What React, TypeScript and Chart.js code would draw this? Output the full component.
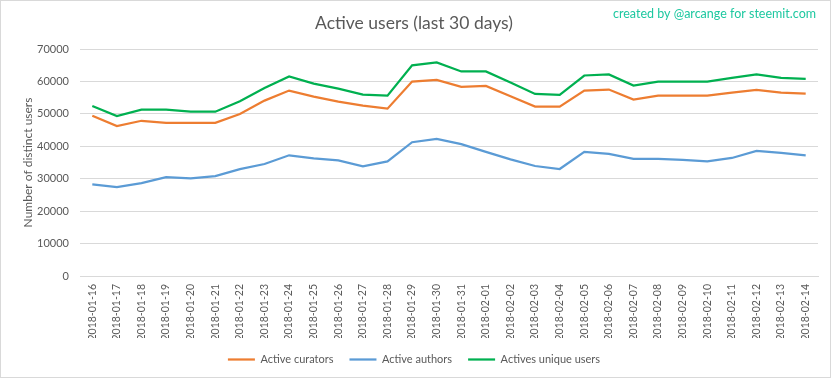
import React, { useEffect, useRef } from "react";
import { Chart, registerables } from "chart.js";

Chart.register(...registerables);

const titleText = "Active users (last 30 days)";
const watermark = "created by @arcange for steemit.com";
const yAxisTitle = "Number of distinct users";

const dates = [
  "2018-01-16", "2018-01-17", "2018-01-18", "2018-01-19", "2018-01-20",
  "2018-01-21", "2018-01-22", "2018-01-23", "2018-01-24", "2018-01-25",
  "2018-01-26", "2018-01-27", "2018-01-28", "2018-01-29", "2018-01-30",
  "2018-01-31", "2018-02-01", "2018-02-02", "2018-02-03", "2018-02-04",
  "2018-02-05", "2018-02-06", "2018-02-07", "2018-02-08", "2018-02-09",
  "2018-02-10", "2018-02-11", "2018-02-12", "2018-02-13", "2018-02-14",
];

const activeCurators = [
  49430, 46220, 47870, 47250, 47250, 47250, 49940, 54080, 57180, 55320,
  53770, 52530, 51600, 59970, 60490, 58320, 58630, 55420, 52220, 52220,
  57180, 57490, 54390, 55630, 55630, 55630, 56560, 57390, 56560, 56250,
];

const activeAuthors = [
  28230, 27400, 28640, 30500, 30090, 30810, 32980, 34540, 37220, 36290,
  35670, 33810, 35360, 41260, 42290, 40640, 38260, 35980, 33920, 32990,
  38260, 37640, 36090, 36090, 35780, 35360, 36400, 38570, 37950, 37220,
];

const uniqueUsers = [
  52420, 49320, 51290, 51290, 50670, 50670, 53870, 58000, 61520, 59350,
  57800, 55940, 55630, 64940, 65870, 63070, 63070, 59660, 56150, 55840,
  61830, 62140, 58730, 59970, 59970, 59970, 61110, 62140, 61110, 60800,
];

const yMin = 0;
const yMax = 70000;
const yStep = 10000;

const FONT = "Lato, 'Noto Sans', sans-serif";
const TEXT = "#595959";

export default function App() {
  const ref = useRef<HTMLCanvasElement>(null);

  useEffect(() => {
    document.body.style.margin = "0";
    const frame = {
      id: "frame",
      beforeDraw(chart: any) {
        const ctx = chart.ctx;
        ctx.save();
        ctx.fillStyle = "#ffffff";
        ctx.fillRect(0, 0, chart.width, chart.height);
        ctx.restore();
      },
      afterDraw(chart: any) {
        const ctx = chart.ctx;
        ctx.save();
        ctx.strokeStyle = "#d9d9d9";
        ctx.lineWidth = 1;
        ctx.strokeRect(0.5, 0.5, 830, 377);
        ctx.fillStyle = "#1ec8a0";
        ctx.font = "12.5px " + FONT;
        ctx.textAlign = "right";
        ctx.textBaseline = "middle";
        ctx.fillText(watermark, 816, 14);
        ctx.restore();
      },
    };

    const chart = new Chart(ref.current!, {
      type: "line",
      data: {
        labels: dates,
        datasets: [
          { label: "Active curators", data: activeCurators, borderColor: "#ED7D31", backgroundColor: "#ED7D31" },
          { label: "Active authors", data: activeAuthors, borderColor: "#5B9BD5", backgroundColor: "#5B9BD5" },
          { label: "Actives unique users", data: uniqueUsers, borderColor: "#00B050", backgroundColor: "#00B050" },
        ].map((d) => ({ ...d, borderWidth: 2.25, pointRadius: 0, tension: 0, fill: false })),
      },
      options: {
        responsive: false,
        animation: false,
        devicePixelRatio: 1,
        layout: { padding: { left: 10, right: 15, top: 0, bottom: 4 } },
        plugins: {
          title: {
            display: true,
            text: titleText,
            color: TEXT,
            font: { family: FONT, size: 17.5, weight: "normal" },
            padding: { top: 12.5, bottom: 15.5 },
          },
          legend: {
            position: "bottom",
            labels: {
              usePointStyle: true,
              pointStyle: "line",
              pointStyleWidth: 27,
              color: TEXT,
              font: { family: FONT, size: 11 },
              padding: 16,
            },
          },
          tooltip: { enabled: false },
        },
        scales: {
          x: {
            type: "category",
            offset: true,
            grid: { display: false, drawTicks: false },
            border: { display: true, color: "#d9d9d9" },
            ticks: {
              autoSkip: false,
              minRotation: 90,
              maxRotation: 90,
              color: TEXT,
              font: { family: FONT, size: 10.5 },
              padding: 8,
            },
            afterFit: (s: any) => { s.height = 62; },
          },
          y: {
            min: yMin,
            max: yMax,
            grid: { color: "#d9d9d9", drawTicks: false },
            border: { display: false },
            ticks: {
              stepSize: yStep,
              color: TEXT,
              font: { family: FONT, size: 11 },
              padding: 11,
              callback: (v: any) => String(v),
            },
            title: {
              display: true,
              text: yAxisTitle,
              color: TEXT,
              font: { family: FONT, size: 12 },
              padding: { top: 11, bottom: 0 },
            },
            afterFit: (s: any) => { s.width = 70; },
          },
        },
      },
      plugins: [frame],
    } as any);

    return () => chart.destroy();
  }, []);

  return (
    <div style={{ width: 833, height: 379 }}>
      <canvas ref={ref} width={833} height={379} />
    </div>
  );
}
